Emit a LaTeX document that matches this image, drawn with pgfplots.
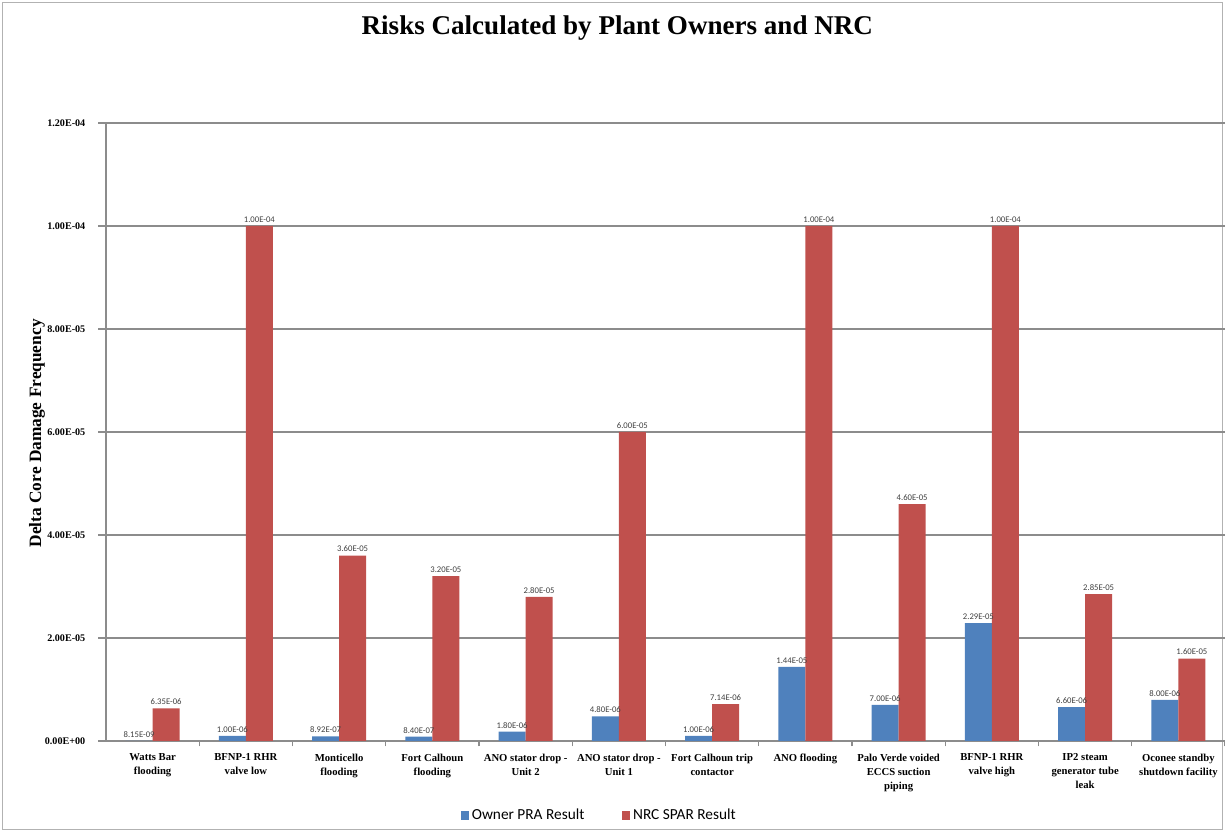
\documentclass[border=0pt]{standalone}
\usepackage{fontspec}
\setmainfont{Liberation Serif}
\newfontfamily\calibri{Carlito}
\usepackage{pgfplots}
\usepackage{pgfplotstable}
\pgfplotsset{compat=1.18}
\definecolor{ownerblue}{HTML}{4F81BD}
\definecolor{nrcred}{HTML}{C0504D}
\definecolor{gridgray}{HTML}{8C8C8C}
\definecolor{lblgray}{HTML}{404040}

% values in units of 1E-05
\pgfplotstableread{
x owner ownerlab nrc nrclab
0 0.000815 8.15E-09 0.635 6.35E-06
1 0.1 1.00E-06 10 1.00E-04
2 0.0892 8.92E-07 3.6 3.60E-05
3 0.084 8.40E-07 3.2 3.20E-05
4 0.18 1.80E-06 2.8 2.80E-05
5 0.48 4.80E-06 6.0 6.00E-05
6 0.1 1.00E-06 0.714 7.14E-06
7 1.44 1.44E-05 10 1.00E-04
8 0.7 7.00E-06 4.6 4.60E-05
9 2.29 2.29E-05 10 1.00E-04
10 0.66 6.60E-06 2.85 2.85E-05
11 0.8 8.00E-06 1.6 1.60E-05
}\data

\begin{document}
\begin{tikzpicture}
\path[use as bounding box] (0,0) rectangle (918.75pt,624pt);
\draw[gray!60, line width=1pt] (2pt,2pt) rectangle (916.75pt,622pt);
\begin{axis}[
  at={(79.5pt,68.25pt)}, anchor=south west,
  scale only axis, width=839.25pt, height=463.5pt,
  ybar=0pt, bar width=20.25pt,
  xmin=-0.5, xmax=11.5, ymin=0, ymax=12,
  axis x line*=bottom, axis y line*=left,
  axis line style={gridgray, line width=0.8pt, -},
  xtick={0,...,11},
  xticklabels={{Watts Bar\\flooding},{BFNP-1 RHR\\valve low},{Monticello\\flooding},{Fort Calhoun\\flooding},{ANO stator drop -\\Unit 2},{ANO stator drop -\\Unit 1},{Fort Calhoun trip\\contactor},{ANO flooding},{Palo Verde voided\\ECCS suction\\piping},{BFNP-1 RHR\\valve high},{IP2 steam\\generator tube\\leak},{Oconee standby\\shutdown facility}},
  major x tick style={draw=none},
  minor xtick={0.5,1.5,...,11.5},
  minor x tick style={gridgray, line width=0.8pt},
  minor tick length=4pt,
  x tick label style={font=\bfseries\fontsize{8}{10.5}\selectfont, align=center, text=black},
  ytick={0,2,...,12},
  yticklabels={0.00E+00,2.00E-05,4.00E-05,6.00E-05,8.00E-05,1.00E-04,1.20E-04},
  y tick label style={font=\bfseries\fontsize{7.6}{9}\selectfont, xshift=-6pt},
  ymajorgrids, grid style={gridgray, line width=0.8pt},
  tick align=outside, tick style={gridgray, line width=0.8pt}, major tick length=6pt,
  nodes near coords, point meta=explicit symbolic,
  nodes near coords style={font=\calibri\fontsize{6.5}{8}\selectfont, text=lblgray, inner sep=2.5pt},
  legend style={at={(0.441,-0.12)}, anchor=center, draw=none, legend columns=2,
    font=\calibri\fontsize{11.5}{13}\selectfont,
    /tikz/every even column/.append style={column sep=26pt}},
  legend image code/.code={\fill[#1] (0pt,-3.5pt) rectangle (6.5pt,3pt);},
]
\addplot[fill=ownerblue, draw=none] table[x=x, y=owner, meta=ownerlab]{\data};
\addplot[fill=nrcred, draw=none] table[x=x, y=nrc, meta=nrclab]{\data};
\legend{Owner PRA Result, NRC SPAR Result}
\end{axis}
\node[font=\bfseries\fontsize{20.3}{23}\selectfont] at (463pt,603pt) {Risks Calculated by Plant Owners and NRC};
\node[rotate=90, font=\bfseries\fontsize{13}{15}\selectfont] at (27.75pt,299pt) {Delta Core Damage Frequency};
\end{tikzpicture}
\end{document}
